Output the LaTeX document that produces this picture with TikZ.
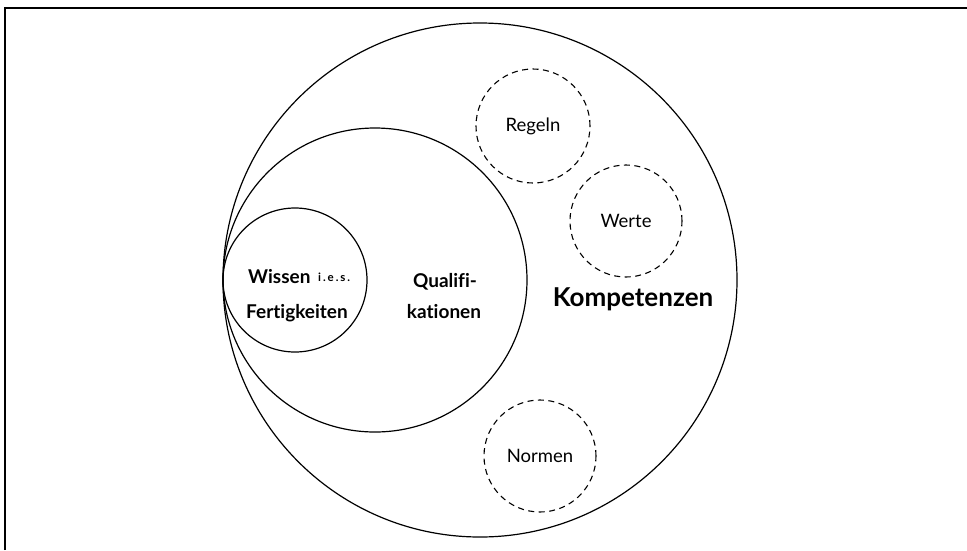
\documentclass[tikz,border=0pt]{standalone}
\usepackage{fontspec}
\setmainfont[Ligatures={NoCommon}]{Lato}
\usetikzlibrary{positioning}

\begin{document}
\begin{tikzpicture}[
      x=1pt, y=-1pt,
      every node/.style={font=\fontsize{18.5}{20}\selectfont},
      ring/.style={draw, circle, line width=1.2pt, inner sep=0pt, minimum size=#1},
      value/.style={draw, circle, line width=1.1pt, dash pattern=on 6pt off 4.5pt,
                    inner sep=0pt, minimum size=#1},
      term/.style={font=\fontsize{19}{20}\selectfont\bfseries},
    ]
    \useasboundingbox (0,0) rectangle (967,550);
    \draw[line width=1.5pt] (5,550) -- (5,8) -- (967,8);

    % nested circles, all touching on the left
    \node[ring=514pt] (komp)  at (480, 280) {};
    \node[ring=304pt] (quali) at (375, 280) {};
    \node[ring=144pt] (wissen) at (295, 280) {};

    % dashed circles
    \node[value=114pt] (regeln) at (533, 126) {Regeln};
    \node[value=112pt] (werte)  at (626, 221) {Werte};
    \node[value=112pt] (normen) at (540, 456) {Normen};

    \node[term, anchor=west, inner sep=0pt] (wtext) at (248, 277) {Wissen};
    \node[anchor=west, inner sep=0pt, font=\fontsize{11.5}{12}\selectfont\bfseries] (ies)
      at (318, 277) {i\,.\,e\,.\,s\,.};
    \node[term] (ftext) at (297, 313) {Fertigkeiten};
    \node[term] (qtext) at (445, 282) {Qualifi-};
    \node[term] (q2text) at (444, 312) {kationen};
    \node[font=\fontsize{26}{28}\selectfont\bfseries] (ktext) at (633, 299) {Kompetenzen};
  \end{tikzpicture}
\end{document}
